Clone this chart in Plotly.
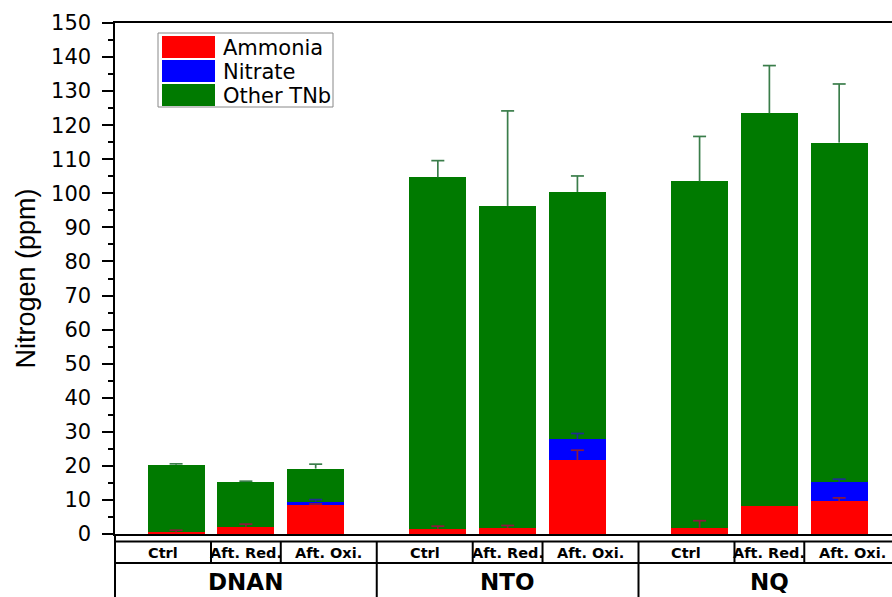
import plotly.graph_objects as go

# ---------------- data ----------------
groups = ["DNAN", "NTO", "NQ"]
treatments = ["Ctrl", "Aft. Red.", "Aft. Oxi."]
series_names = ["Ammonia", "Nitrate", "Other TNb"]

ammonia = [0.5, 2.1, 8.5, 1.5, 1.8, 21.7, 1.8, 8.2, 9.6]
nitrate = [0.0, 0.0, 1.0, 0.0, 0.0, 6.1, 0.0, 0.0, 5.7]
other = [19.8, 13.2, 9.7, 103.2, 94.5, 72.6, 101.7, 115.3, 99.6]

ammonia_err = [0.6, 0.8, 0.3, 0.8, 0.7, 2.9, 2.1, 0.0, 1.0]
nitrate_err = [0.0, 0.0, 0.6, 0.0, 0.0, 1.7, 0.0, 0.0, 0.8]
other_err = [0.3, 0.2, 1.3, 4.9, 27.9, 4.7, 13.2, 14.0, 17.2]

y_ticks = list(range(0, 151, 10))

# ---------------- style / layout ----------------
W, H = 892, 597
ML, MR, MT, MB = 115, 0, 23, 63
PW, PH = W - ML - MR, H - MT - MB
GROUP_STEP = 3.75
BAR_W = 0.815
PX_PER_UNIT = 69.8
XR = [-(GROUP_STEP - 2) / 2, 0]
XR[1] = XR[0] + PW / PX_PER_UNIT
CAP_HALF = 6.5 / PX_PER_UNIT

colors = ["#FF0000", "#0000FF", "#007A00"]
err_colors = ["#8B1A3A", "#1F2F8F", "#3A7D4A"]

TICK_FONT = dict(family="DejaVu Sans", size=21, color="black")

xs = [g * GROUP_STEP + i for g in range(len(groups)) for i in range(len(treatments))]


def px_x(px):
    return (px - ML) / PW


def px_y(py):
    return (H - MB - py) / PH


def dx(v):
    return (v - XR[0]) / (XR[1] - XR[0])


fig = go.Figure()

series = [ammonia, nitrate, other]
errors = [ammonia_err, nitrate_err, other_err]
for name, vals, col in zip(series_names, series, colors):
    fig.add_trace(go.Bar(x=xs, y=vals, name=name, width=BAR_W,
                         marker=dict(color=col, line=dict(width=0)),
                         showlegend=False, hoverinfo="skip"))

# error bars (plus direction only) drawn on top, at the stacked tops
cum = [0.0] * len(xs)
for vals, errs, ecol in zip(series, errors, err_colors):
    cum = [c + v for c, v in zip(cum, vals)]
    ex, ey = [], []
    for x, top, e in zip(xs, cum, errs):
        if e > 0:
            ex += [x, x, None, x - CAP_HALF, x + CAP_HALF, None]
            ey += [top, top + e, None, top + e, top + e, None]
    fig.add_trace(go.Scatter(x=ex, y=ey, mode="lines",
                             line=dict(color=ecol, width=1.7),
                             showlegend=False, hoverinfo="skip"))

shapes = []
line = dict(color="black", width=2)
y_top = px_y(541.5)
y_mid = px_y(563)
y_bot = px_y(640)
shapes.append(dict(type="line", xref="paper", yref="paper", x0=0, x1=1, y0=y_top, y1=y_top, line=line))
shapes.append(dict(type="line", xref="paper", yref="paper", x0=0, x1=1, y0=y_mid, y1=y_mid, line=line))
shapes.append(dict(type="line", xref="paper", yref="paper", x0=0, x1=0, y0=0, y1=y_bot, line=line))

annotations = []
for g, gname in enumerate(groups):
    left = g * GROUP_STEP + XR[0]
    right = left + GROUP_STEP
    if g > 0:
        shapes.append(dict(type="line", xref="paper", yref="paper", x0=dx(left), x1=dx(left),
                           y0=y_top, y1=y_bot, line=line))
    base = g * GROUP_STEP
    bounds = [left, base + 0.5, base + 1.5, right]
    for b in bounds[1:3]:
        shapes.append(dict(type="line", xref="paper", yref="paper", x0=dx(b), x1=dx(b),
                           y0=y_top, y1=y_mid, line=line))
    for i, t in enumerate(treatments):
        cx = (bounds[i] + bounds[i + 1]) / 2
        annotations.append(dict(text="<b>" + t + "</b>", xref="paper", yref="paper",
                                x=dx(cx), y=px_y(552.5),
                                xanchor="center", yanchor="middle", showarrow=False,
                                font=dict(family="DejaVu Sans", size=14.5, color="black")))
    annotations.append(dict(text="<b>" + gname + "</b>", xref="paper", yref="paper",
                            x=dx((left + right) / 2), y=px_y(582),
                            xanchor="center", yanchor="middle", showarrow=False,
                            font=dict(family="DejaVu Sans", size=23, color="black")))

# legend (custom, Origin style)
shapes.append(dict(type="rect", xref="paper", yref="paper", x0=px_x(158), x1=px_x(333),
                   y0=px_y(33), y1=px_y(107), line=dict(color="#888888", width=1),
                   fillcolor="white"))
for k, (name, col) in enumerate(zip(series_names, colors)):
    top = 36 + 24 * k
    shapes.append(dict(type="rect", xref="paper", yref="paper", x0=px_x(162), x1=px_x(215),
                       y0=px_y(top), y1=px_y(top + 22), line=dict(width=0), fillcolor=col))
    annotations.append(dict(text=name, xref="paper", yref="paper", x=px_x(221),
                            y=px_y(top + 12), xanchor="left", yanchor="middle", showarrow=False,
                            font=dict(family="DejaVu Sans", size=21, color="black")))

# y axis title
annotations.append(dict(text="Nitrogen (ppm)", xref="paper", yref="paper", x=px_x(25),
                        y=0.5, xanchor="center", yanchor="middle", textangle=-90,
                        showarrow=False,
                        font=dict(family="Liberation Sans, Arial", size=27, color="black")))

fig.update_layout(
    width=W, height=H,
    margin=dict(l=ML, r=MR, t=MT, b=MB, pad=0),
    paper_bgcolor="white", plot_bgcolor="white",
    barmode="stack", bargap=0,
    shapes=shapes, annotations=annotations,
    showlegend=False,
)
fig.update_xaxes(range=XR, showline=True, linecolor="black", linewidth=2, mirror=True,
                 ticks="", showticklabels=False, showgrid=False, zeroline=False, fixedrange=True)
fig.update_yaxes(range=[0, 150], tickvals=y_ticks,
                 ticktext=[str(v) + "\u00a0" for v in y_ticks],
                 showline=True, linecolor="black", linewidth=2,
                 ticks="outside", ticklen=11, tickwidth=2, tickcolor="black",
                 minor=dict(dtick=5, ticks="outside", ticklen=5, tickwidth=2, tickcolor="black"),
                 tickfont=TICK_FONT, showgrid=False, zeroline=False, fixedrange=True)

fig.write_html("out.html")
